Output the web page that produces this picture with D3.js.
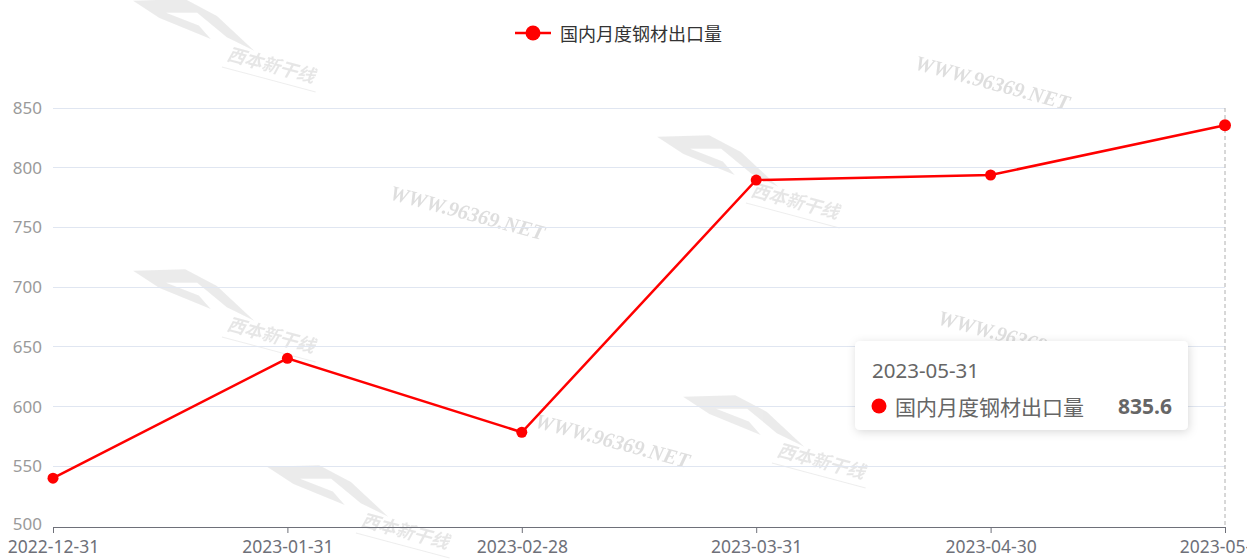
<!DOCTYPE html>
<html><head><meta charset="utf-8">
<script src="https://cdn.jsdelivr.net/npm/d3@7"></script>
<style>
html,body{margin:0;padding:0;background:#fff;overflow:hidden;}
svg{display:block;font-family:"Noto Sans CJK SC","Noto Sans",sans-serif;}
</style></head>
<body><svg id="c" width="1247" height="560"></svg>
<script>
const seriesName = "国内月度钢材出口量";
const categories = ["2022-12-31","2023-01-31","2023-02-28","2023-03-31","2023-04-30","2023-05-31"];
const values = [540.0, 640.4, 578.5, 789.7, 793.9, 835.6];
const yTicks = [500,550,600,650,700,750,800,850];
const watermarkUrls = [[992,85],[467,215],[612,443],[1015,340]];
const watermarkLogos = [[228,52],[752,188],[228,322],[778,448],[362,518]];

const svg = d3.select("#c");
const x = d3.scalePoint().domain(categories).range([53, 1225]);
const y = d3.scaleLinear().domain([500, 850]).range([526, 108]);

// watermarks
const wm = svg.append("g").attr("pointer-events","none");
watermarkUrls.forEach(([cx,cy])=>{
  wm.append("text").attr("transform",`translate(${cx},${cy}) rotate(15)`)
    .attr("text-anchor","middle").attr("dominant-baseline","middle")
    .attr("font-family","'Liberation Serif',serif").attr("font-style","italic").attr("font-weight","bold")
    .attr("font-size",21).attr("fill","#d4d4d4").attr("opacity",0.75).text("WWW.96369.NET");
});
watermarkLogos.forEach(([cx,cy])=>{
  const g = wm.append("g").attr("transform",`translate(${cx},${cy}) rotate(15)`).attr("opacity",0.3);
  g.append("path").attr("d","M-105,-25 L-55,-40 L-20,-32 L25,-8 L-5,-14 L-40,-30 L-70,-22 L-35,-18 L-20,-8 L-75,-15 Z")
    .attr("fill","#c0c0c0");
  g.append("text").attr("x",0).attr("y",8).attr("font-size",18).attr("font-style","italic").attr("font-weight","bold")
    .attr("fill","#b0b0b0").text("西本新干线");
  g.append("line").attr("x1",-2).attr("x2",95).attr("y1",16).attr("y2",16).attr("stroke","#c8c8c8").attr("stroke-width",1);
});

// grid
svg.append("g").selectAll("line").data(yTicks.filter(d=>d!==500)).join("line")
  .attr("x1",53).attr("x2",1225).attr("y1",d=>y(d)).attr("y2",d=>y(d))
  .attr("stroke","#e0e6f1").attr("stroke-width",1).attr("shape-rendering","crispEdges");

// y axis labels
const ya = svg.append("g").attr("transform","translate(53,0)")
  .call(d3.axisLeft(y).tickValues(yTicks).tickSize(0).tickPadding(11));
ya.select(".domain").remove();
ya.selectAll("text").attr("font-size",17).attr("fill","#9a9a9a").attr("font-family","'Noto Sans',sans-serif")
  .attr("dy",d=>d===500?"0.2em":"0.32em");

// x axis
const xa = svg.append("g").attr("transform","translate(0,527)")
  .call(d3.axisBottom(x).tickSize(6).tickPadding(6).tickSizeOuter(0));
xa.select(".domain").attr("stroke","#6e7079").attr("stroke-width",1.2);
xa.selectAll(".tick line").attr("stroke","#6e7079");
xa.selectAll("text").attr("font-size",17.5).attr("fill","#6e7079").attr("font-family","'Noto Sans',sans-serif").attr("dy","0.8em");

// axis pointer
svg.append("line").attr("x1",x(categories[5])).attr("x2",x(categories[5]))
  .attr("y1",108).attr("y2",527).attr("stroke","#b0b0b0").attr("stroke-dasharray","4,3").attr("stroke-width",1);

// line
const data = categories.map((c,i)=>({c,v:values[i]}));
svg.append("path").datum(data)
  .attr("d",d3.line().x(d=>x(d.c)).y(d=>y(d.v)))
  .attr("fill","none").attr("stroke","#ff0000").attr("stroke-width",2.5);
svg.append("g").selectAll("circle").data(data).join("circle")
  .attr("cx",d=>x(d.c)).attr("cy",d=>y(d.v)).attr("r",d=>d.c===categories[5]?6:5.5).attr("fill","#ff0000");

// legend
const lg = svg.append("g");
lg.append("line").attr("x1",515).attr("x2",551).attr("y1",33).attr("y2",33).attr("stroke","#ff0000").attr("stroke-width",2.5);
lg.append("circle").attr("cx",533).attr("cy",33).attr("r",7.5).attr("fill","#ff0000");
lg.append("text").attr("x",560).attr("y",33).attr("dominant-baseline","central")
  .attr("font-size",18).attr("fill","#333").text(seriesName);

// tooltip
const defs = svg.append("defs");
const f = defs.append("filter").attr("id","sh").attr("x","-20%").attr("y","-30%").attr("width","140%").attr("height","160%");
f.append("feDropShadow").attr("dx",1).attr("dy",2).attr("stdDeviation",5).attr("flood-color","#000").attr("flood-opacity",0.15);
const tt = svg.append("g").attr("transform","translate(855,341)");
tt.append("rect").attr("width",333).attr("height",89).attr("rx",5).attr("fill","#fff").attr("filter","url(#sh)");
tt.append("text").attr("x",17).attr("y",29).attr("dominant-baseline","central").attr("font-size",20.5).attr("fill","#666")
  .attr("font-family","'Noto Sans',sans-serif").text(categories[5]);
tt.append("circle").attr("cx",24).attr("cy",65).attr("r",7.5).attr("fill","#ff0000");
tt.append("text").attr("x",40).attr("y",65).attr("dominant-baseline","central").attr("font-size",21).attr("fill","#666").text(seriesName);
tt.append("text").attr("x",317).attr("y",65).attr("text-anchor","end").attr("dominant-baseline","central")
  .attr("font-size",21).attr("font-weight","bold").attr("fill","#666").attr("font-family","'Noto Sans',sans-serif").text(values[5]);
</script></body></html>
